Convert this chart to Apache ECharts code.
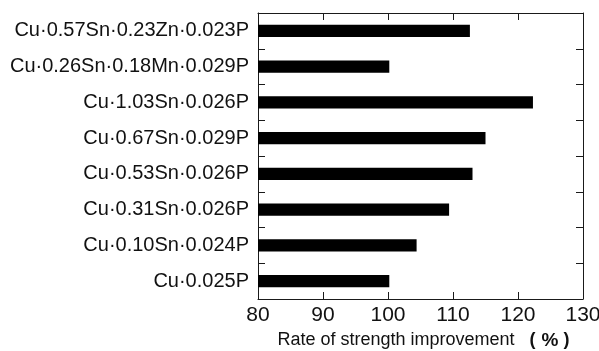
<!DOCTYPE html>
<html>
<head>
<meta charset="utf-8">
<script src="https://cdn.jsdelivr.net/npm/echarts@6/dist/echarts.min.js"></script>
<style>
html,body{margin:0;padding:0;background:#fff;}
#chart{width:599px;height:351px;}
</style>
</head>
<body>
<div id="chart"></div>
<script>
// Data (bottom to top)
var categories = [
  'Cu·0.025P',
  'Cu·0.10Sn·0.024P',
  'Cu·0.31Sn·0.026P',
  'Cu·0.53Sn·0.026P',
  'Cu·0.67Sn·0.029P',
  'Cu·1.03Sn·0.026P',
  'Cu·0.26Sn·0.18Mn·0.029P',
  'Cu·0.57Sn·0.23Zn·0.023P'
];
var values = [100.2, 104.4, 109.4, 113.0, 115.0, 122.3, 100.2, 112.6];
var xTicks = [80, 90, 100, 110, 120, 130];
var xTitle = 'Rate of strength improvement';

var chart = echarts.init(document.getElementById('chart'), null, {renderer: 'canvas'});
var lineStyle = {color: '#1a1a1a', width: 1};
var xMin = xTicks[0], xMax = xTicks[xTicks.length - 1], xStep = xTicks[1] - xTicks[0];
var FF = 'Liberation Sans, Arial, sans-serif';

chart.setOption({
  animation: false,
  backgroundColor: '#fff',
  grid: {left: 258, right: 16, top: 13, bottom: 52, containLabel: false, outerBoundsMode: 'none'},
  xAxis: [{
    type: 'value', position: 'bottom', min: xMin, max: xMax, interval: xStep,
    axisLine: {show: true, lineStyle: lineStyle},
    axisTick: {show: true, inside: true, length: 7, lineStyle: lineStyle},
    axisLabel: {show: true, margin: 6, color: '#111', fontFamily: FF, fontSize: 21},
    splitLine: {show: false},
    name: xTitle + '{l|(}{c|%}{r|)}',
    nameLocation: 'middle',
    nameGap: 32,
    nameTextStyle: {
      color: '#111', fontFamily: FF, fontSize: 18,
      padding: [0, 0, 0, 6],
      rich: {
        l: {fontFamily: FF, fontSize: 18, fontWeight: 'bold', color: '#111', padding: [0, 6, 0, 15]},
        c: {fontFamily: FF, fontSize: 19, fontWeight: 'bold', color: '#111', padding: [0, 5, 0, 0]},
        r: {fontFamily: FF, fontSize: 18, fontWeight: 'bold', color: '#111'}
      }
    }
  }, {
    type: 'value', position: 'top', min: xMin, max: xMax, interval: xStep,
    axisLine: {show: true, lineStyle: lineStyle},
    axisTick: {show: true, inside: true, length: 7, lineStyle: lineStyle},
    axisLabel: {show: false},
    splitLine: {show: false}
  }],
  yAxis: [{
    type: 'category', position: 'left', data: categories,
    axisLine: {show: true, lineStyle: lineStyle},
    axisTick: {show: true, inside: true, length: 7, lineStyle: lineStyle},
    axisLabel: {show: true, margin: 9, color: '#111', fontFamily: FF, fontSize: 20},
    splitLine: {show: false}
  }, {
    type: 'category', position: 'right', data: categories,
    axisLine: {show: true, lineStyle: lineStyle},
    axisTick: {show: true, inside: true, length: 7, lineStyle: lineStyle},
    axisLabel: {show: false},
    splitLine: {show: false}
  }],
  series: [{
    type: 'bar',
    xAxisIndex: 0, yAxisIndex: 0,
    data: values,
    barWidth: '34%',
    itemStyle: {color: '#000'},
    silent: true
  }]
});
</script>
</body>
</html>
